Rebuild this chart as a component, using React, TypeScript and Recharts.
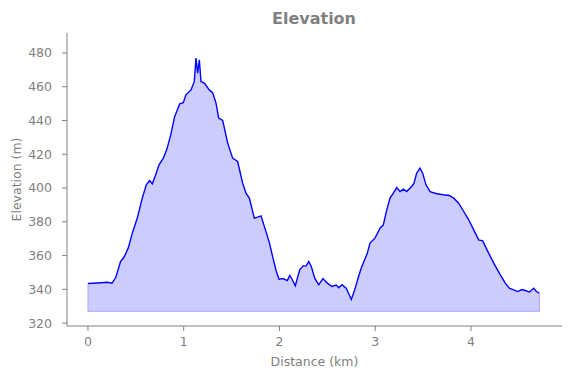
import React from "react";
import { ComposedChart, Area, Line, XAxis, YAxis, ReferenceLine } from "recharts";

const distanceKm: number[] = [
  0, 0.1, 0.2, 0.25, 0.29, 0.34, 0.376, 0.42, 0.463, 0.515, 0.567, 0.609, 0.644, 0.672, 0.707, 0.742,
  0.787, 0.822, 0.864, 0.905, 0.958, 0.995, 1.023, 1.076, 1.11, 1.128, 1.145, 1.163, 1.18, 1.215, 1.267,
  1.302, 1.337, 1.365, 1.407, 1.459, 1.511, 1.563, 1.615, 1.65, 1.685, 1.737, 1.772, 1.807, 1.859, 1.894,
  1.932, 1.967, 1.995, 2.037, 2.082, 2.107, 2.131, 2.165, 2.211, 2.246, 2.28, 2.305, 2.332, 2.368, 2.409,
  2.454, 2.499, 2.548, 2.593, 2.618, 2.653, 2.698, 2.75, 2.785, 2.82, 2.854, 2.889, 2.915, 2.945, 2.997,
  3.05, 3.084, 3.12, 3.154, 3.189, 3.224, 3.259, 3.293, 3.328, 3.38, 3.405, 3.432, 3.467, 3.495, 3.53,
  3.572, 3.642, 3.711, 3.774, 3.819, 3.871, 3.924, 3.976, 4.028, 4.08, 4.122, 4.167, 4.237, 4.306, 4.358,
  4.4, 4.446, 4.487, 4.532, 4.567, 4.609, 4.655, 4.682, 4.714,
];

const elevationM: number[] = [
  343.5, 343.8, 344.2, 343.6, 347.0, 356.5, 359.0, 364.4, 373.3, 382.2, 394.0, 401.9, 404.4, 402.5, 407.8, 413.7,
  417.7, 422.6, 431.5, 442.3, 449.8, 450.5, 455.2, 458.1, 463.0, 476.9, 468.0, 475.9, 463.0, 462.1, 458.1,
  456.5, 450.3, 441.4, 440.0, 426.6, 417.7, 415.7, 402.9, 397.0, 394.0, 382.2, 382.8, 383.5, 374.2, 367.7,
  358.5, 350.6, 346.0, 346.4, 345.2, 348.2, 346.0, 342.1, 351.6, 353.9, 353.9, 356.5, 353.5, 346.6, 342.7,
  346.4, 343.7, 341.7, 342.5, 340.9, 342.7, 340.5, 334.0, 339.7, 346.6, 352.6, 357.5, 361.0, 367.4, 370.3,
  376.2, 378.2, 387.1, 394.0, 397.0, 400.3, 397.9, 399.3, 397.9, 400.9, 402.9, 408.8, 411.8, 408.8, 401.9,
  397.9, 396.6, 396.0, 395.6, 394.0, 391.0, 386.1, 381.2, 375.2, 369.3, 368.7, 363.4, 355.5, 348.6, 343.7,
  340.7, 339.7, 338.7, 339.9, 339.3, 338.4, 340.7, 338.7, 337.8,
];

const fillBase = 327;
const xTicks: number[] = [0, 1, 2, 3, 4];
const yTicks: number[] = [320, 340, 360, 380, 400, 420, 440, 460, 480];

const data = distanceKm.map((d, i) => ({ d, e: elevationM[i] }));

const GRAY = "#808080";
const FONT = "'DejaVu Sans', sans-serif";

export default function App() {
  const x0 = distanceKm[0];
  const x1 = distanceKm[distanceKm.length - 1];
  const edge = "#a8a8ff";
  return (
    <div style={{ position: "absolute", left: 0, top: 0, width: 571, height: 378, background: "#fff" }}>
      <div
        style={{
          position: "absolute",
          left: 214,
          width: 200,
          top: 9,
          textAlign: "center",
          fontFamily: FONT,
          fontWeight: "bold",
          fontSize: 16,
          color: GRAY,
          lineHeight: "20px",
        }}
      >
        Elevation
      </div>
      <ComposedChart
        width={571}
        height={378}
        data={data}
        margin={{ top: 33, right: 9, left: 0, bottom: 0 }}
        style={{ fontFamily: FONT }}
      >
        <XAxis
          dataKey="d"
          type="number"
          domain={[-0.219, 4.95]}
          ticks={xTicks}
          allowDataOverflow
          height={52}
          tickSize={5}
          tickMargin={6}
          stroke={GRAY}
          tick={{ fill: GRAY, fontSize: 12.5 }}
          label={{ value: "Distance (km)", position: "insideBottom", offset: 12, fill: GRAY, fontSize: 12.5 }}
        />
        <YAxis
          type="number"
          domain={[318.3, 491.8]}
          ticks={yTicks}
          allowDataOverflow
          width={67}
          tickSize={5}
          tickMargin={10}
          stroke={GRAY}
          tick={{ fill: GRAY, fontSize: 12.5 }}
          label={{ value: "Elevation (m)", angle: -90, position: "insideLeft", offset: 17, fill: GRAY, fontSize: 12.5, style: { textAnchor: "middle" } }}
        />
        <Area
          dataKey="e"
          type="linear"
          baseValue={fillBase}
          fill="#ccccff"
          fillOpacity={1}
          stroke="none"
          isAnimationActive={false}
        />
        <ReferenceLine segment={[{ x: x0, y: fillBase }, { x: x1, y: fillBase }]} stroke={edge} strokeWidth={1} ifOverflow="visible" />
        <ReferenceLine segment={[{ x: x0, y: fillBase }, { x: x0, y: elevationM[0] }]} stroke={edge} strokeWidth={1} ifOverflow="visible" />
        <ReferenceLine segment={[{ x: x1, y: fillBase }, { x: x1, y: elevationM[elevationM.length - 1] }]} stroke={edge} strokeWidth={1} ifOverflow="visible" />
        <Line
          dataKey="e"
          type="linear"
          stroke="#0000ff"
          strokeWidth={1.4}
          dot={false}
          activeDot={false}
          isAnimationActive={false}
        />
      </ComposedChart>
    </div>
  );
}
